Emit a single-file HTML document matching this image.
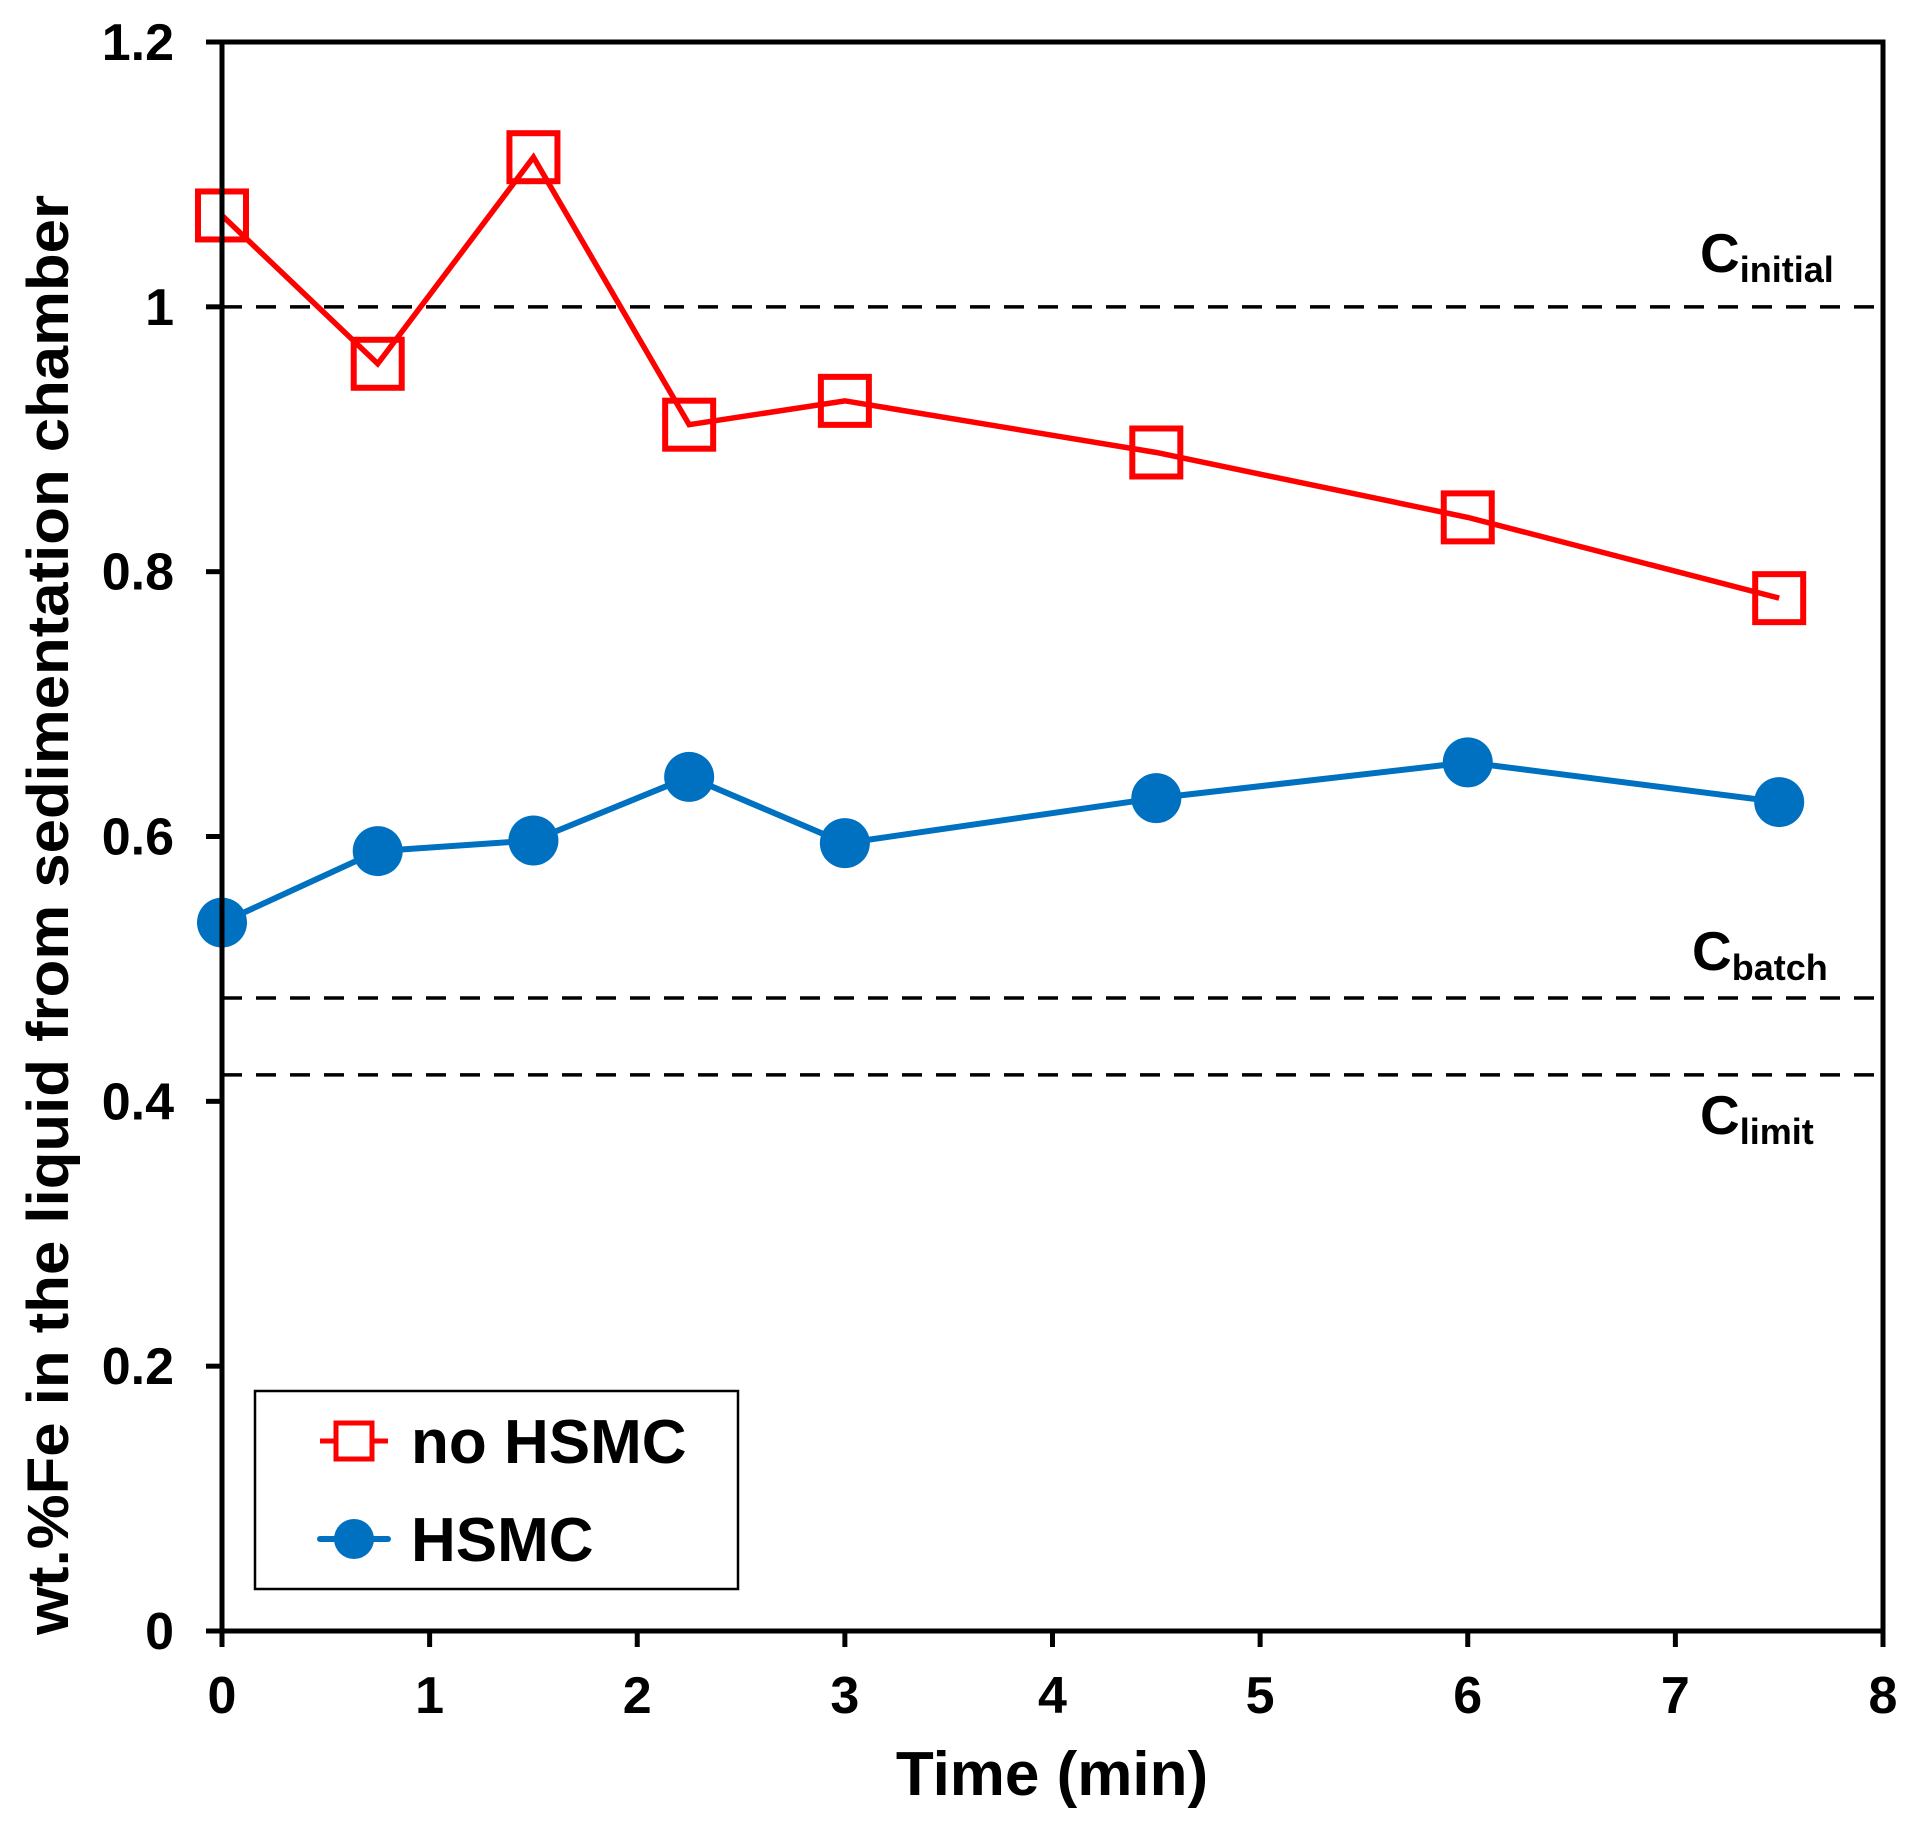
<!DOCTYPE html>
<html><head><meta charset="utf-8"><style>
html,body{margin:0;padding:0;background:#fff;}
svg{display:block;font-family:"Liberation Sans",Arial,sans-serif;font-weight:bold;}
</style></head><body>
<svg id="chart" width="1912" height="1825" viewBox="0 0 1912 1825" xmlns="http://www.w3.org/2000/svg">
<g id="grid"></g>
<g id="series"></g>
<g id="axes"></g>
<text x="1052" y="1795" font-size="62" text-anchor="middle">Time (min)</text>
<text transform="translate(68,915) rotate(-90)" font-size="58" text-anchor="middle" textLength="1440" lengthAdjust="spacingAndGlyphs">wt.%Fe in the liquid from sedimentation chamber</text>
<text x="1700" y="272" font-size="55">C<tspan font-size="36" dy="10">initial</tspan></text>
<text x="1692" y="970" font-size="55">C<tspan font-size="36" dy="10">batch</tspan></text>
<text x="1700" y="1134" font-size="55">C<tspan font-size="36" dy="10">limit</tspan></text>
<g>
<rect x="255" y="1391" width="483" height="198" fill="#fff" stroke="#000" stroke-width="2.5"/>
<g>
<line x1="320" y1="1441" x2="388" y2="1441" stroke="#ff0000" stroke-width="5"/>
<rect x="336" y="1423" width="36" height="36" fill="#fff" stroke="#ff0000" stroke-width="5"/>
<text x="411" y="1463" font-size="62">no HSMC</text>
</g>
<g>
<line x1="320" y1="1539" x2="388" y2="1539" stroke="#0070c0" stroke-width="6" stroke-linecap="round"/>
<circle cx="354" cy="1539" r="20" fill="#0070c0"/>
<text x="411" y="1561" font-size="62">HSMC</text>
</g>
</g>
</svg>
<script>
const xTicks = [0,1,2,3,4,5,6,7,8];
const yTicks = [0,0.2,0.4,0.6,0.8,1,1.2];
const yTickLabels = ["0","0.2","0.4","0.6","0.8","1","1.2"];
const times = [0,0.75,1.5,2.25,3,4.5,6,7.5];
const noHsmc = [1.069,0.957,1.113,0.911,0.929,0.890,0.841,0.780];
const hsmc = [0.535,0.589,0.597,0.645,0.595,0.629,0.656,0.626];
const refNames = ["c-initial","c-batch","c-limit"];
const refValues = [1.0,0.478,0.42];

const X0=222, X1=1883, Y0=1631, Y1=42;
function sx(v){return X0+(X1-X0)*v/8;}
function sy(v){return Y0-(Y0-Y1)*v/1.2;}
const NS="http://www.w3.org/2000/svg";
function mk(tag,attrs,parent){const e=document.createElementNS(NS,tag);for(const k in attrs)e.setAttribute(k,attrs[k]);parent.appendChild(e);return e;}
const grid=document.getElementById('grid'),series=document.getElementById('series'),axes=document.getElementById('axes');

refValues.forEach((v,i)=>{
  const l=mk('line',{x1:X0,x2:X1,y1:sy(v),y2:sy(v),stroke:'#000','stroke-width':3.5,'stroke-dasharray':'20 14'},grid);
  
  
});

const rp=mk('polyline',{points:times.map((t,i)=>sx(t)+','+sy(noHsmc[i])).join(' '),fill:'none',stroke:'#ff0000','stroke-width':5.5},series);


times.forEach((t,i)=>{
  const r=mk('rect',{x:sx(t)-24,y:sy(noHsmc[i])-24,width:48,height:48,fill:'none',stroke:'#ff0000','stroke-width':6},series);
  
  
});
const bp=mk('polyline',{points:times.map((t,i)=>sx(t)+','+sy(hsmc[i])).join(' '),fill:'none',stroke:'#0070c0','stroke-width':6},series);


times.forEach((t,i)=>{
  const c=mk('circle',{cx:sx(t),cy:sy(hsmc[i]),r:25,fill:'#0070c0'},series);
  
  
});

const fr=mk('rect',{x:X0,y:Y1,width:X1-X0,height:Y0-Y1,fill:'none',stroke:'#000','stroke-width':5},axes);


xTicks.forEach(v=>{
  const t=mk('line',{x1:sx(v),x2:sx(v),y1:Y0,y2:Y0+16,stroke:'#000','stroke-width':5},axes);
  
  
  const lb=mk('text',{x:sx(v),y:Y0+82,'font-size':52,'text-anchor':'middle'},axes);
  
  
  lb.textContent=String(v);
});
yTicks.forEach((v,i)=>{
  const t=mk('line',{x1:X0-16,x2:X0,y1:sy(v),y2:sy(v),stroke:'#000','stroke-width':5},axes);
  
  
  const lb=mk('text',{x:174,y:sy(v)+18,'font-size':52,'text-anchor':'end'},axes);
  
  
  lb.textContent=yTickLabels[i];
});
</script>
</body></html>
